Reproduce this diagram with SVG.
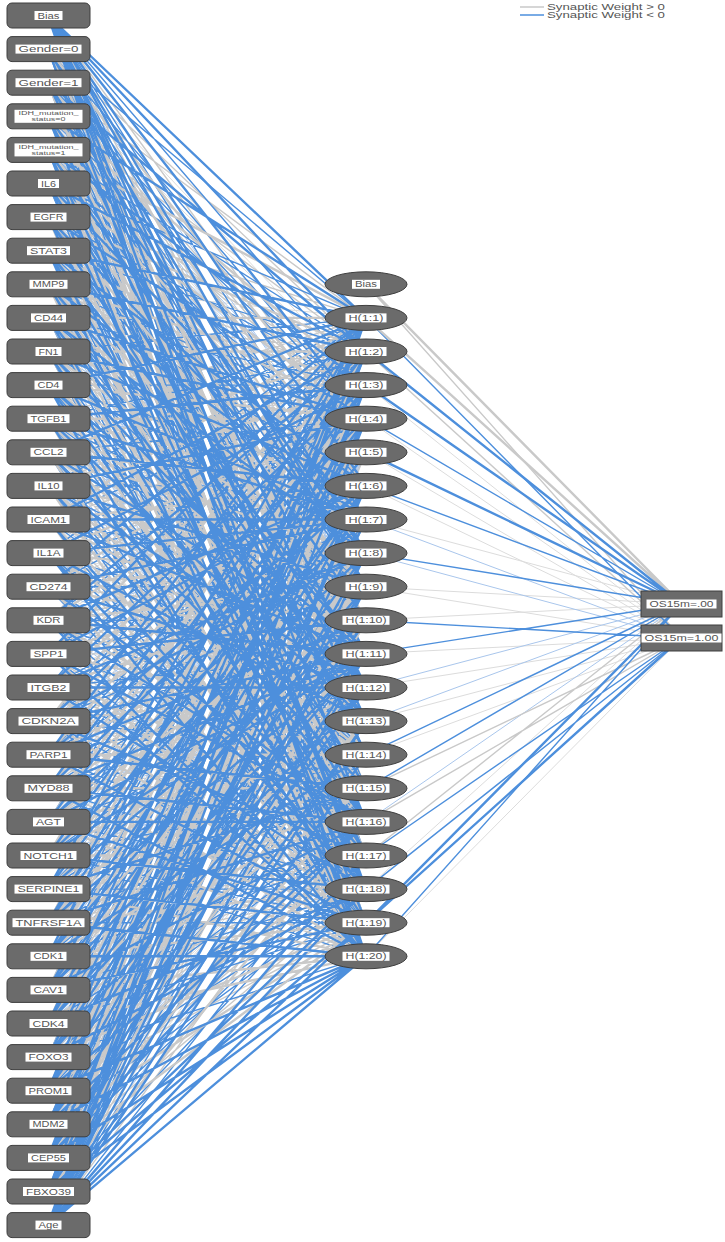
<svg xmlns="http://www.w3.org/2000/svg" width="725" height="1242" viewBox="0 0 725 1242">
<style>
.cn path{fill:none;stroke-linecap:butt}
.h{stroke:#dcdcdc;stroke-width:1}
.l{stroke:#a9c6ec;stroke-width:1}
.g{stroke:#c9c9c9;stroke-width:1.4}
.G{stroke:#c9c9c9;stroke-width:2.4}
.b{stroke:#4d8fdc;stroke-width:1.4}
.B{stroke:#4d8fdc;stroke-width:2.4}
.ib{fill:#6b6b6b;stroke:#3f3f3f;stroke-width:1}
.lb{fill:#ffffff}
.t{font-family:"Liberation Sans",Arial,sans-serif;font-size:8.5px;fill:#555555;text-anchor:middle}
.ts{font-family:"Liberation Sans",Arial,sans-serif;font-size:5.5px;fill:#555555;text-anchor:middle}
.lg{font-family:"Liberation Sans",Arial,sans-serif;font-size:8.5px;fill:#555555}
</style>
<rect width="725" height="1242" fill="#ffffff"/>
<g id="connectors" class="cn">
<path class="h" d="M48 49.1L366 385.1M48 49.1L366 620.3M48 49.1L366 821.9M48 82.7L366 385.1M48 82.7L366 687.5M48 116.3L366 485.9M48 116.3L366 721.1M48 149.9L366 553.1M48 149.9L366 855.5M48 183.5L366 485.9M48 183.5L366 788.3M48 217.1L366 452.3M48 217.1L366 754.7M48 250.7L366 519.5M48 250.7L366 721.1M48 284.3L366 317.9M48 284.3L366 687.5M48 317.9L366 485.9M48 317.9L366 788.3M48 351.5L366 385.1M48 351.5L366 754.7M48 385.1L366 452.3M48 385.1L366 788.3M48 418.7L366 553.1M48 418.7L366 855.5M48 452.3L366 452.3M48 452.3L366 721.1M48 485.9L366 519.5M48 485.9L366 889.1M48 519.5L366 553.1M48 519.5L366 788.3M48 553.1L366 351.5M48 553.1L366 620.3M48 553.1L366 922.7M48 586.7L366 452.3M48 586.7L366 754.7M48 620.3L366 452.3M48 620.3L366 687.5M48 653.9L366 385.1M48 653.9L366 687.5M48 687.5L366 485.9M48 687.5L366 754.7M48 721.1L366 452.3M48 721.1L366 788.3M48 754.7L366 351.5M48 754.7L366 721.1M48 788.3L366 519.5M48 788.3L366 855.5M48 821.9L366 452.3M48 821.9L366 687.5M48 855.5L366 485.9M48 855.5L366 721.1M48 889.1L366 519.5M48 889.1L366 821.9M48 922.7L366 519.5M48 922.7L366 754.7M48 956.3L366 452.3M48 956.3L366 721.1M48 989.9L366 485.9M48 989.9L366 721.1M48 1023.5L366 452.3M48 1023.5L366 721.1M48 1057.1L366 452.3M48 1057.1L366 788.3M48 1090.7L366 519.5M48 1090.7L366 788.3M48 1124.3L366 452.3M48 1124.3L366 754.7M48 1157.9L366 485.9M48 1157.9L366 754.7M48 1191.5L366 452.3M48 1191.5L366 754.7M366 385.1L681.5 638M366 418.7L681.5 638M366 452.3L681.5 638M366 485.9L681.5 638M366 519.5L681.5 604M366 586.7L681.5 604M366 586.7L681.5 638M366 620.3L681.5 604M366 653.9L681.5 638M366 687.5L681.5 638M366 721.1L681.5 638M366 754.7L681.5 638M366 889.1L681.5 604M366 956.3L681.5 638"/>
<path class="l" d="M48 49.1L366 485.9M48 49.1L366 754.7M48 82.7L366 519.5M48 82.7L366 821.9M48 116.3L366 452.3M48 116.3L366 788.3M48 149.9L366 452.3M48 149.9L366 721.1M48 183.5L366 586.7M48 183.5L366 889.1M48 217.1L366 485.9M48 217.1L366 821.9M48 250.7L366 452.3M48 250.7L366 821.9M48 284.3L366 553.1M48 284.3L366 889.1M48 317.9L366 452.3M48 317.9L366 754.7M48 351.5L366 519.5M48 351.5L366 788.3M48 385.1L366 553.1M48 385.1L366 889.1M48 418.7L366 452.3M48 418.7L366 754.7M48 452.3L366 519.5M48 452.3L366 855.5M48 485.9L366 452.3M48 485.9L366 721.1M48 519.5L366 452.3M48 519.5L366 721.1M48 553.1L366 553.1M48 553.1L366 788.3M48 586.7L366 485.9M48 586.7L366 721.1M48 586.7L366 956.3M48 620.3L366 519.5M48 620.3L366 855.5M48 653.9L366 519.5M48 653.9L366 788.3M48 687.5L366 452.3M48 687.5L366 721.1M48 721.1L366 485.9M48 721.1L366 721.1M48 754.7L366 519.5M48 754.7L366 821.9M48 788.3L366 452.3M48 788.3L366 721.1M48 821.9L366 485.9M48 821.9L366 788.3M48 855.5L366 452.3M48 855.5L366 754.7M48 889.1L366 485.9M48 889.1L366 721.1M48 922.7L366 452.3M48 922.7L366 721.1M48 956.3L366 519.5M48 956.3L366 821.9M48 989.9L366 452.3M48 989.9L366 754.7M48 1023.5L366 519.5M48 1023.5L366 754.7M48 1057.1L366 485.9M48 1057.1L366 754.7M48 1090.7L366 452.3M48 1090.7L366 721.1M48 1124.3L366 485.9M48 1124.3L366 788.3M48 1157.9L366 452.3M48 1157.9L366 721.1M48 1191.5L366 519.5M48 1191.5L366 788.3M366 519.5L681.5 638M366 553.1L681.5 638M366 687.5L681.5 604M366 721.1L681.5 604M366 821.9L681.5 604"/>
<path class="g" d="M48 15.5L366 452.3M48 15.5L366 620.3M48 15.5L366 788.3M48 49.1L366 351.5M48 49.1L366 553.1M48 49.1L366 653.9M48 49.1L366 855.5M48 49.1L366 922.7M48 82.7L366 317.9M48 82.7L366 452.3M48 82.7L366 620.3M48 82.7L366 788.3M48 82.7L366 889.1M48 116.3L366 351.5M48 116.3L366 519.5M48 116.3L366 653.9M48 116.3L366 821.9M48 116.3L366 956.3M48 149.9L366 418.7M48 149.9L366 653.9M48 149.9L366 788.3M48 183.5L366 385.1M48 183.5L366 553.1M48 183.5L366 721.1M48 183.5L366 922.7M48 217.1L366 317.9M48 217.1L366 519.5M48 217.1L366 653.9M48 217.1L366 922.7M48 250.7L366 385.1M48 250.7L366 586.7M48 250.7L366 754.7M48 250.7L366 922.7M48 284.3L366 452.3M48 284.3L366 620.3M48 284.3L366 855.5M48 317.9L366 351.5M48 317.9L366 620.3M48 317.9L366 821.9M48 351.5L366 452.3M48 351.5L366 620.3M48 351.5L366 855.5M48 385.1L366 351.5M48 385.1L366 586.7M48 385.1L366 721.1M48 385.1L366 922.7M48 418.7L366 317.9M48 418.7L366 485.9M48 418.7L366 687.5M48 418.7L366 889.1M48 452.3L366 385.1M48 452.3L366 620.3M48 452.3L366 821.9M48 485.9L366 351.5M48 485.9L366 620.3M48 485.9L366 788.3M48 519.5L366 418.7M48 519.5L366 620.3M48 519.5L366 821.9M48 519.5L366 956.3M48 553.1L366 452.3M48 553.1L366 687.5M48 553.1L366 855.5M48 586.7L366 351.5M48 586.7L366 620.3M48 586.7L366 855.5M48 620.3L366 317.9M48 620.3L366 553.1M48 620.3L366 721.1M48 620.3L366 922.7M48 653.9L366 452.3M48 653.9L366 653.9M48 653.9L366 855.5M48 687.5L366 351.5M48 687.5L366 620.3M48 687.5L366 821.9M48 687.5L366 922.7M48 721.1L366 385.1M48 721.1L366 620.3M48 721.1L366 821.9M48 754.7L366 452.3M48 754.7L366 653.9M48 754.7L366 855.5M48 788.3L366 317.9M48 788.3L366 553.1M48 788.3L366 754.7M48 788.3L366 922.7M48 821.9L366 418.7M48 821.9L366 620.3M48 821.9L366 855.5M48 855.5L366 351.5M48 855.5L366 586.7M48 855.5L366 821.9M48 889.1L366 418.7M48 889.1L366 653.9M48 889.1L366 855.5M48 922.7L366 317.9M48 922.7L366 553.1M48 922.7L366 855.5M48 956.3L366 385.1M48 956.3L366 653.9M48 956.3L366 889.1M48 989.9L366 385.1M48 989.9L366 620.3M48 989.9L366 855.5M48 1023.5L366 418.7M48 1023.5L366 620.3M48 1023.5L366 855.5M48 1057.1L366 351.5M48 1057.1L366 620.3M48 1057.1L366 855.5M48 1090.7L366 418.7M48 1090.7L366 653.9M48 1090.7L366 922.7M48 1124.3L366 317.9M48 1124.3L366 620.3M48 1124.3L366 855.5M48 1157.9L366 351.5M48 1157.9L366 620.3M48 1157.9L366 889.1M48 1191.5L366 418.7M48 1191.5L366 653.9M48 1225.1L366 452.3M48 1225.1L366 620.3M48 1225.1L366 788.3M366 284.3L681.5 638M366 351.5L681.5 638M366 788.3L681.5 638M366 821.9L681.5 638M366 855.5L681.5 604"/>
<path class="b" d="M48 15.5L366 385.1M48 15.5L366 519.5M48 15.5L366 653.9M48 15.5L366 754.7M48 15.5L366 855.5M48 15.5L366 922.7M48 49.1L366 317.9M48 49.1L366 418.7M48 49.1L366 519.5M48 49.1L366 687.5M48 49.1L366 788.3M48 49.1L366 956.3M48 82.7L366 418.7M48 82.7L366 553.1M48 82.7L366 653.9M48 82.7L366 855.5M48 82.7L366 956.3M48 116.3L366 418.7M48 116.3L366 586.7M48 116.3L366 687.5M48 116.3L366 889.1M48 149.9L366 351.5M48 149.9L366 485.9M48 149.9L366 586.7M48 149.9L366 754.7M48 149.9L366 889.1M48 183.5L366 317.9M48 183.5L366 452.3M48 183.5L366 653.9M48 183.5L366 754.7M48 183.5L366 956.3M48 217.1L366 385.1M48 217.1L366 620.3M48 217.1L366 687.5M48 217.1L366 855.5M48 250.7L366 351.5M48 250.7L366 553.1M48 250.7L366 687.5M48 250.7L366 889.1M48 284.3L366 418.7M48 284.3L366 485.9M48 284.3L366 721.1M48 284.3L366 788.3M48 284.3L366 922.7M48 317.9L366 385.1M48 317.9L366 586.7M48 317.9L366 687.5M48 317.9L366 922.7M48 317.9L366 956.3M48 351.5L366 317.9M48 351.5L366 553.1M48 351.5L366 653.9M48 351.5L366 821.9M48 351.5L366 956.3M48 385.1L366 385.1M48 385.1L366 485.9M48 385.1L366 687.5M48 385.1L366 754.7M48 418.7L366 351.5M48 418.7L366 586.7M48 418.7L366 653.9M48 418.7L366 821.9M48 452.3L366 418.7M48 452.3L366 586.7M48 452.3L366 754.7M48 452.3L366 889.1M48 452.3L366 956.3M48 485.9L366 317.9M48 485.9L366 485.9M48 485.9L366 653.9M48 485.9L366 821.9M48 485.9L366 922.7M48 519.5L366 385.1M48 519.5L366 586.7M48 519.5L366 754.7M48 519.5L366 922.7M48 553.1L366 317.9M48 553.1L366 485.9M48 553.1L366 653.9M48 553.1L366 821.9M48 586.7L366 418.7M48 586.7L366 586.7M48 586.7L366 788.3M48 586.7L366 922.7M48 620.3L366 385.1M48 620.3L366 620.3M48 620.3L366 754.7M48 620.3L366 889.1M48 653.9L366 418.7M48 653.9L366 586.7M48 653.9L366 754.7M48 653.9L366 889.1M48 687.5L366 317.9M48 687.5L366 519.5M48 687.5L366 653.9M48 687.5L366 855.5M48 721.1L366 351.5M48 721.1L366 586.7M48 721.1L366 754.7M48 721.1L366 889.1M48 721.1L366 956.3M48 754.7L366 418.7M48 754.7L366 553.1M48 754.7L366 687.5M48 754.7L366 889.1M48 788.3L366 385.1M48 788.3L366 586.7M48 788.3L366 687.5M48 788.3L366 889.1M48 821.9L366 317.9M48 821.9L366 553.1M48 821.9L366 721.1M48 821.9L366 889.1M48 855.5L366 385.1M48 855.5L366 620.3M48 855.5L366 788.3M48 855.5L366 922.7M48 855.5L366 956.3M48 889.1L366 351.5M48 889.1L366 553.1M48 889.1L366 687.5M48 889.1L366 889.1M48 922.7L366 418.7M48 922.7L366 620.3M48 922.7L366 788.3M48 922.7L366 922.7M48 956.3L366 351.5M48 956.3L366 553.1M48 956.3L366 687.5M48 956.3L366 855.5M48 989.9L366 317.9M48 989.9L366 519.5M48 989.9L366 687.5M48 989.9L366 889.1M48 1023.5L366 385.1M48 1023.5L366 586.7M48 1023.5L366 821.9M48 1023.5L366 922.7M48 1057.1L366 317.9M48 1057.1L366 519.5M48 1057.1L366 653.9M48 1057.1L366 821.9M48 1057.1L366 956.3M48 1090.7L366 385.1M48 1090.7L366 586.7M48 1090.7L366 754.7M48 1090.7L366 889.1M48 1124.3L366 351.5M48 1124.3L366 586.7M48 1124.3L366 653.9M48 1124.3L366 889.1M48 1157.9L366 385.1M48 1157.9L366 553.1M48 1157.9L366 687.5M48 1157.9L366 855.5M48 1191.5L366 317.9M48 1191.5L366 553.1M48 1191.5L366 687.5M48 1191.5L366 855.5M48 1225.1L366 351.5M48 1225.1L366 519.5M48 1225.1L366 687.5M48 1225.1L366 821.9M366 317.9L681.5 638M366 418.7L681.5 604M366 485.9L681.5 604M366 553.1L681.5 604M366 620.3L681.5 638M366 653.9L681.5 604M366 754.7L681.5 604M366 788.3L681.5 604M366 855.5L681.5 638M366 889.1L681.5 638M366 956.3L681.5 604"/>
<path class="G" d="M48 49.1L366 452.3M48 49.1L366 721.1M48 82.7L366 485.9M48 82.7L366 721.1M48 82.7L366 922.7M48 116.3L366 385.1M48 116.3L366 620.3M48 116.3L366 855.5M48 149.9L366 317.9M48 149.9L366 519.5M48 149.9L366 687.5M48 149.9L366 922.7M48 183.5L366 418.7M48 183.5L366 620.3M48 183.5L366 821.9M48 217.1L366 351.5M48 217.1L366 586.7M48 217.1L366 788.3M48 217.1L366 956.3M48 250.7L366 418.7M48 250.7L366 620.3M48 250.7L366 855.5M48 284.3L366 385.1M48 284.3L366 586.7M48 284.3L366 754.7M48 284.3L366 956.3M48 317.9L366 317.9M48 317.9L366 519.5M48 317.9L366 653.9M48 317.9L366 889.1M48 351.5L366 351.5M48 351.5L366 586.7M48 351.5L366 721.1M48 351.5L366 922.7M48 385.1L366 418.7M48 385.1L366 620.3M48 385.1L366 855.5M48 418.7L366 418.7M48 418.7L366 620.3M48 418.7L366 788.3M48 418.7L366 956.3M48 452.3L366 351.5M48 452.3L366 553.1M48 452.3L366 687.5M48 452.3L366 922.7M48 485.9L366 385.1M48 485.9L366 553.1M48 485.9L366 754.7M48 485.9L366 956.3M48 519.5L366 317.9M48 519.5L366 485.9M48 519.5L366 687.5M48 519.5L366 855.5M48 553.1L366 418.7M48 553.1L366 586.7M48 553.1L366 754.7M48 586.7L366 385.1M48 586.7L366 553.1M48 586.7L366 653.9M48 586.7L366 889.1M48 620.3L366 418.7M48 620.3L366 586.7M48 620.3L366 788.3M48 653.9L366 351.5M48 653.9L366 553.1M48 653.9L366 721.1M48 653.9L366 922.7M48 687.5L366 418.7M48 687.5L366 586.7M48 687.5L366 788.3M48 687.5L366 956.3M48 721.1L366 317.9M48 721.1L366 519.5M48 721.1L366 687.5M48 721.1L366 922.7M48 754.7L366 385.1M48 754.7L366 586.7M48 754.7L366 754.7M48 754.7L366 956.3M48 788.3L366 418.7M48 788.3L366 620.3M48 788.3L366 788.3M48 821.9L366 351.5M48 821.9L366 586.7M48 821.9L366 754.7M48 821.9L366 956.3M48 855.5L366 317.9M48 855.5L366 519.5M48 855.5L366 687.5M48 855.5L366 855.5M48 889.1L366 385.1M48 889.1L366 586.7M48 889.1L366 754.7M48 889.1L366 956.3M48 922.7L366 351.5M48 922.7L366 586.7M48 922.7L366 687.5M48 922.7L366 889.1M48 956.3L366 418.7M48 956.3L366 620.3M48 956.3L366 788.3M48 956.3L366 922.7M48 989.9L366 351.5M48 989.9L366 586.7M48 989.9L366 788.3M48 989.9L366 956.3M48 1023.5L366 317.9M48 1023.5L366 553.1M48 1023.5L366 788.3M48 1023.5L366 956.3M48 1057.1L366 385.1M48 1057.1L366 553.1M48 1057.1L366 721.1M48 1057.1L366 922.7M48 1090.7L366 351.5M48 1090.7L366 553.1M48 1090.7L366 687.5M48 1090.7L366 855.5M48 1124.3L366 418.7M48 1124.3L366 519.5M48 1124.3L366 721.1M48 1124.3L366 922.7M48 1157.9L366 418.7M48 1157.9L366 586.7M48 1157.9L366 788.3M48 1157.9L366 922.7M48 1191.5L366 385.1M48 1191.5L366 620.3M48 1191.5L366 821.9M366 284.3L681.5 604M366 317.9L681.5 604"/>
<path class="B" d="M48 15.5L366 317.9M48 15.5L366 351.5M48 15.5L366 418.7M48 15.5L366 485.9M48 15.5L366 553.1M48 15.5L366 586.7M48 15.5L366 687.5M48 15.5L366 721.1M48 15.5L366 821.9M48 15.5L366 889.1M48 15.5L366 956.3M48 49.1L366 586.7M48 49.1L366 889.1M48 82.7L366 351.5M48 82.7L366 586.7M48 82.7L366 754.7M48 116.3L366 317.9M48 116.3L366 553.1M48 116.3L366 754.7M48 116.3L366 922.7M48 149.9L366 385.1M48 149.9L366 620.3M48 149.9L366 821.9M48 149.9L366 956.3M48 183.5L366 351.5M48 183.5L366 519.5M48 183.5L366 687.5M48 183.5L366 855.5M48 217.1L366 418.7M48 217.1L366 553.1M48 217.1L366 721.1M48 217.1L366 889.1M48 250.7L366 317.9M48 250.7L366 485.9M48 250.7L366 653.9M48 250.7L366 788.3M48 250.7L366 956.3M48 284.3L366 351.5M48 284.3L366 519.5M48 284.3L366 653.9M48 284.3L366 821.9M48 317.9L366 418.7M48 317.9L366 553.1M48 317.9L366 721.1M48 317.9L366 855.5M48 351.5L366 418.7M48 351.5L366 485.9M48 351.5L366 687.5M48 351.5L366 889.1M48 385.1L366 317.9M48 385.1L366 519.5M48 385.1L366 653.9M48 385.1L366 821.9M48 385.1L366 956.3M48 418.7L366 385.1M48 418.7L366 519.5M48 418.7L366 721.1M48 418.7L366 922.7M48 452.3L366 317.9M48 452.3L366 485.9M48 452.3L366 653.9M48 452.3L366 788.3M48 485.9L366 418.7M48 485.9L366 586.7M48 485.9L366 687.5M48 485.9L366 855.5M48 519.5L366 351.5M48 519.5L366 519.5M48 519.5L366 653.9M48 519.5L366 889.1M48 553.1L366 385.1M48 553.1L366 519.5M48 553.1L366 721.1M48 553.1L366 889.1M48 553.1L366 956.3M48 586.7L366 317.9M48 586.7L366 519.5M48 586.7L366 687.5M48 586.7L366 821.9M48 620.3L366 351.5M48 620.3L366 485.9M48 620.3L366 653.9M48 620.3L366 821.9M48 620.3L366 956.3M48 653.9L366 317.9M48 653.9L366 485.9M48 653.9L366 620.3M48 653.9L366 821.9M48 653.9L366 956.3M48 687.5L366 385.1M48 687.5L366 553.1M48 687.5L366 687.5M48 687.5L366 889.1M48 721.1L366 418.7M48 721.1L366 553.1M48 721.1L366 653.9M48 721.1L366 855.5M48 754.7L366 317.9M48 754.7L366 485.9M48 754.7L366 620.3M48 754.7L366 788.3M48 754.7L366 922.7M48 788.3L366 351.5M48 788.3L366 485.9M48 788.3L366 653.9M48 788.3L366 821.9M48 788.3L366 956.3M48 821.9L366 385.1M48 821.9L366 519.5M48 821.9L366 653.9M48 821.9L366 821.9M48 821.9L366 922.7M48 855.5L366 418.7M48 855.5L366 553.1M48 855.5L366 653.9M48 855.5L366 889.1M48 889.1L366 317.9M48 889.1L366 452.3M48 889.1L366 620.3M48 889.1L366 788.3M48 889.1L366 922.7M48 922.7L366 385.1M48 922.7L366 485.9M48 922.7L366 653.9M48 922.7L366 821.9M48 922.7L366 956.3M48 956.3L366 317.9M48 956.3L366 485.9M48 956.3L366 586.7M48 956.3L366 754.7M48 956.3L366 956.3M48 989.9L366 418.7M48 989.9L366 553.1M48 989.9L366 653.9M48 989.9L366 821.9M48 989.9L366 922.7M48 1023.5L366 351.5M48 1023.5L366 485.9M48 1023.5L366 653.9M48 1023.5L366 687.5M48 1023.5L366 889.1M48 1057.1L366 418.7M48 1057.1L366 586.7M48 1057.1L366 687.5M48 1057.1L366 889.1M48 1090.7L366 317.9M48 1090.7L366 485.9M48 1090.7L366 620.3M48 1090.7L366 821.9M48 1090.7L366 956.3M48 1124.3L366 385.1M48 1124.3L366 553.1M48 1124.3L366 687.5M48 1124.3L366 821.9M48 1124.3L366 956.3M48 1157.9L366 317.9M48 1157.9L366 519.5M48 1157.9L366 653.9M48 1157.9L366 821.9M48 1157.9L366 956.3M48 1191.5L366 351.5M48 1191.5L366 485.9M48 1191.5L366 586.7M48 1191.5L366 721.1M48 1191.5L366 889.1M48 1191.5L366 922.7M48 1191.5L366 956.3M48 1225.1L366 317.9M48 1225.1L366 385.1M48 1225.1L366 418.7M48 1225.1L366 485.9M48 1225.1L366 553.1M48 1225.1L366 586.7M48 1225.1L366 653.9M48 1225.1L366 721.1M48 1225.1L366 754.7M48 1225.1L366 855.5M48 1225.1L366 889.1M48 1225.1L366 922.7M48 1225.1L366 956.3M366 351.5L681.5 604M366 385.1L681.5 604M366 452.3L681.5 604M366 922.7L681.5 604M366 922.7L681.5 638"/>
</g>
<g id="legend">
<line x1="520" y1="7" x2="544" y2="7" stroke="#c9c9c9" stroke-width="1.5"/>
<text class="lg" x="547" y="10" textLength="118" lengthAdjust="spacingAndGlyphs">Synaptic Weight &gt; 0</text>
<line x1="520" y1="15" x2="544" y2="15" stroke="#4d8fdc" stroke-width="1.5"/>
<text class="lg" x="547" y="18" textLength="118" lengthAdjust="spacingAndGlyphs">Synaptic Weight &lt; 0</text>
</g>
<g id="in-bias" transform="translate(0 15.5)"><rect class="ib" x="7" y="-12.5" width="83" height="25" rx="5"/><rect class="lb" x="34.5" y="-4.5" width="28" height="9"/><text class="t" x="48.5" y="3" textLength="22" lengthAdjust="spacingAndGlyphs">Bias</text></g>
<g id="in-gender0" transform="translate(0 49.1)"><rect class="ib" x="7" y="-12.5" width="83" height="25" rx="5"/><rect class="lb" x="15.5" y="-4.5" width="66" height="9"/><text class="t" x="48.5" y="3" textLength="60" lengthAdjust="spacingAndGlyphs">Gender=0</text></g>
<g id="in-gender1" transform="translate(0 82.7)"><rect class="ib" x="7" y="-12.5" width="83" height="25" rx="5"/><rect class="lb" x="15.5" y="-4.5" width="66" height="9"/><text class="t" x="48.5" y="3" textLength="60" lengthAdjust="spacingAndGlyphs">Gender=1</text></g>
<g id="in-idh0" transform="translate(0 116.3)"><rect class="ib" x="7" y="-12.5" width="83" height="25" rx="5"/><rect class="lb" x="14.5" y="-6.5" width="68" height="13"/><text class="ts" x="48.5" y="-1" textLength="60" lengthAdjust="spacingAndGlyphs">IDH_mutation_</text><text class="ts" x="48.5" y="5" textLength="34" lengthAdjust="spacingAndGlyphs">status=0</text></g>
<g id="in-idh1" transform="translate(0 149.9)"><rect class="ib" x="7" y="-12.5" width="83" height="25" rx="5"/><rect class="lb" x="14.5" y="-6.5" width="68" height="13"/><text class="ts" x="48.5" y="-1" textLength="60" lengthAdjust="spacingAndGlyphs">IDH_mutation_</text><text class="ts" x="48.5" y="5" textLength="34" lengthAdjust="spacingAndGlyphs">status=1</text></g>
<g id="in-il6" transform="translate(0 183.5)"><rect class="ib" x="7" y="-12.5" width="83" height="25" rx="5"/><rect class="lb" x="38" y="-4.5" width="21" height="9"/><text class="t" x="48.5" y="3" textLength="15" lengthAdjust="spacingAndGlyphs">IL6</text></g>
<g id="in-egfr" transform="translate(0 217.1)"><rect class="ib" x="7" y="-12.5" width="83" height="25" rx="5"/><rect class="lb" x="30.5" y="-4.5" width="36" height="9"/><text class="t" x="48.5" y="3" textLength="30" lengthAdjust="spacingAndGlyphs">EGFR</text></g>
<g id="in-stat3" transform="translate(0 250.7)"><rect class="ib" x="7" y="-12.5" width="83" height="25" rx="5"/><rect class="lb" x="27" y="-4.5" width="43" height="9"/><text class="t" x="48.5" y="3" textLength="37" lengthAdjust="spacingAndGlyphs">STAT3</text></g>
<g id="in-mmp9" transform="translate(0 284.3)"><rect class="ib" x="7" y="-12.5" width="83" height="25" rx="5"/><rect class="lb" x="29.5" y="-4.5" width="38" height="9"/><text class="t" x="48.5" y="3" textLength="32" lengthAdjust="spacingAndGlyphs">MMP9</text></g>
<g id="in-cd44" transform="translate(0 317.9)"><rect class="ib" x="7" y="-12.5" width="83" height="25" rx="5"/><rect class="lb" x="31" y="-4.5" width="35" height="9"/><text class="t" x="48.5" y="3" textLength="29" lengthAdjust="spacingAndGlyphs">CD44</text></g>
<g id="in-fn1" transform="translate(0 351.5)"><rect class="ib" x="7" y="-12.5" width="83" height="25" rx="5"/><rect class="lb" x="35.5" y="-4.5" width="26" height="9"/><text class="t" x="48.5" y="3" textLength="20" lengthAdjust="spacingAndGlyphs">FN1</text></g>
<g id="in-cd4" transform="translate(0 385.1)"><rect class="ib" x="7" y="-12.5" width="83" height="25" rx="5"/><rect class="lb" x="34.5" y="-4.5" width="28" height="9"/><text class="t" x="48.5" y="3" textLength="22" lengthAdjust="spacingAndGlyphs">CD4</text></g>
<g id="in-tgfb1" transform="translate(0 418.7)"><rect class="ib" x="7" y="-12.5" width="83" height="25" rx="5"/><rect class="lb" x="27.5" y="-4.5" width="42" height="9"/><text class="t" x="48.5" y="3" textLength="36" lengthAdjust="spacingAndGlyphs">TGFB1</text></g>
<g id="in-ccl2" transform="translate(0 452.3)"><rect class="ib" x="7" y="-12.5" width="83" height="25" rx="5"/><rect class="lb" x="30.5" y="-4.5" width="36" height="9"/><text class="t" x="48.5" y="3" textLength="30" lengthAdjust="spacingAndGlyphs">CCL2</text></g>
<g id="in-il10" transform="translate(0 485.9)"><rect class="ib" x="7" y="-12.5" width="83" height="25" rx="5"/><rect class="lb" x="34.5" y="-4.5" width="28" height="9"/><text class="t" x="48.5" y="3" textLength="22" lengthAdjust="spacingAndGlyphs">IL10</text></g>
<g id="in-icam1" transform="translate(0 519.5)"><rect class="ib" x="7" y="-12.5" width="83" height="25" rx="5"/><rect class="lb" x="27.5" y="-4.5" width="42" height="9"/><text class="t" x="48.5" y="3" textLength="36" lengthAdjust="spacingAndGlyphs">ICAM1</text></g>
<g id="in-il1a" transform="translate(0 553.1)"><rect class="ib" x="7" y="-12.5" width="83" height="25" rx="5"/><rect class="lb" x="33.5" y="-4.5" width="30" height="9"/><text class="t" x="48.5" y="3" textLength="24" lengthAdjust="spacingAndGlyphs">IL1A</text></g>
<g id="in-cd274" transform="translate(0 586.7)"><rect class="ib" x="7" y="-12.5" width="83" height="25" rx="5"/><rect class="lb" x="26.5" y="-4.5" width="44" height="9"/><text class="t" x="48.5" y="3" textLength="38" lengthAdjust="spacingAndGlyphs">CD274</text></g>
<g id="in-kdr" transform="translate(0 620.3)"><rect class="ib" x="7" y="-12.5" width="83" height="25" rx="5"/><rect class="lb" x="33.5" y="-4.5" width="30" height="9"/><text class="t" x="48.5" y="3" textLength="24" lengthAdjust="spacingAndGlyphs">KDR</text></g>
<g id="in-spp1" transform="translate(0 653.9)"><rect class="ib" x="7" y="-12.5" width="83" height="25" rx="5"/><rect class="lb" x="30.5" y="-4.5" width="36" height="9"/><text class="t" x="48.5" y="3" textLength="30" lengthAdjust="spacingAndGlyphs">SPP1</text></g>
<g id="in-itgb2" transform="translate(0 687.5)"><rect class="ib" x="7" y="-12.5" width="83" height="25" rx="5"/><rect class="lb" x="27.5" y="-4.5" width="42" height="9"/><text class="t" x="48.5" y="3" textLength="36" lengthAdjust="spacingAndGlyphs">ITGB2</text></g>
<g id="in-cdkn2a" transform="translate(0 721.1)"><rect class="ib" x="7" y="-12.5" width="83" height="25" rx="5"/><rect class="lb" x="18.5" y="-4.5" width="60" height="9"/><text class="t" x="48.5" y="3" textLength="54" lengthAdjust="spacingAndGlyphs">CDKN2A</text></g>
<g id="in-parp1" transform="translate(0 754.7)"><rect class="ib" x="7" y="-12.5" width="83" height="25" rx="5"/><rect class="lb" x="26.5" y="-4.5" width="44" height="9"/><text class="t" x="48.5" y="3" textLength="38" lengthAdjust="spacingAndGlyphs">PARP1</text></g>
<g id="in-myd88" transform="translate(0 788.3)"><rect class="ib" x="7" y="-12.5" width="83" height="25" rx="5"/><rect class="lb" x="24.5" y="-4.5" width="48" height="9"/><text class="t" x="48.5" y="3" textLength="42" lengthAdjust="spacingAndGlyphs">MYD88</text></g>
<g id="in-agt" transform="translate(0 821.9)"><rect class="ib" x="7" y="-12.5" width="83" height="25" rx="5"/><rect class="lb" x="33" y="-4.5" width="31" height="9"/><text class="t" x="48.5" y="3" textLength="25" lengthAdjust="spacingAndGlyphs">AGT</text></g>
<g id="in-notch1" transform="translate(0 855.5)"><rect class="ib" x="7" y="-12.5" width="83" height="25" rx="5"/><rect class="lb" x="20.5" y="-4.5" width="56" height="9"/><text class="t" x="48.5" y="3" textLength="50" lengthAdjust="spacingAndGlyphs">NOTCH1</text></g>
<g id="in-serpine1" transform="translate(0 889.1)"><rect class="ib" x="7" y="-12.5" width="83" height="25" rx="5"/><rect class="lb" x="14.5" y="-4.5" width="68" height="9"/><text class="t" x="48.5" y="3" textLength="62" lengthAdjust="spacingAndGlyphs">SERPINE1</text></g>
<g id="in-tnfrsf1a" transform="translate(0 922.7)"><rect class="ib" x="7" y="-12.5" width="83" height="25" rx="5"/><rect class="lb" x="12.5" y="-4.5" width="72" height="9"/><text class="t" x="48.5" y="3" textLength="66" lengthAdjust="spacingAndGlyphs">TNFRSF1A</text></g>
<g id="in-cdk1" transform="translate(0 956.3)"><rect class="ib" x="7" y="-12.5" width="83" height="25" rx="5"/><rect class="lb" x="30.5" y="-4.5" width="36" height="9"/><text class="t" x="48.5" y="3" textLength="30" lengthAdjust="spacingAndGlyphs">CDK1</text></g>
<g id="in-cav1" transform="translate(0 989.9)"><rect class="ib" x="7" y="-12.5" width="83" height="25" rx="5"/><rect class="lb" x="30.5" y="-4.5" width="36" height="9"/><text class="t" x="48.5" y="3" textLength="30" lengthAdjust="spacingAndGlyphs">CAV1</text></g>
<g id="in-cdk4" transform="translate(0 1023.5)"><rect class="ib" x="7" y="-12.5" width="83" height="25" rx="5"/><rect class="lb" x="29.5" y="-4.5" width="38" height="9"/><text class="t" x="48.5" y="3" textLength="32" lengthAdjust="spacingAndGlyphs">CDK4</text></g>
<g id="in-foxo3" transform="translate(0 1057.1)"><rect class="ib" x="7" y="-12.5" width="83" height="25" rx="5"/><rect class="lb" x="25.5" y="-4.5" width="46" height="9"/><text class="t" x="48.5" y="3" textLength="40" lengthAdjust="spacingAndGlyphs">FOXO3</text></g>
<g id="in-prom1" transform="translate(0 1090.7)"><rect class="ib" x="7" y="-12.5" width="83" height="25" rx="5"/><rect class="lb" x="25.5" y="-4.5" width="46" height="9"/><text class="t" x="48.5" y="3" textLength="40" lengthAdjust="spacingAndGlyphs">PROM1</text></g>
<g id="in-mdm2" transform="translate(0 1124.3)"><rect class="ib" x="7" y="-12.5" width="83" height="25" rx="5"/><rect class="lb" x="29.5" y="-4.5" width="38" height="9"/><text class="t" x="48.5" y="3" textLength="32" lengthAdjust="spacingAndGlyphs">MDM2</text></g>
<g id="in-cep55" transform="translate(0 1157.9)"><rect class="ib" x="7" y="-12.5" width="83" height="25" rx="5"/><rect class="lb" x="28" y="-4.5" width="41" height="9"/><text class="t" x="48.5" y="3" textLength="35" lengthAdjust="spacingAndGlyphs">CEP55</text></g>
<g id="in-fbxo39" transform="translate(0 1191.5)"><rect class="ib" x="7" y="-12.5" width="83" height="25" rx="5"/><rect class="lb" x="23" y="-4.5" width="51" height="9"/><text class="t" x="48.5" y="3" textLength="45" lengthAdjust="spacingAndGlyphs">FBXO39</text></g>
<g id="in-age" transform="translate(0 1225.1)"><rect class="ib" x="7" y="-12.5" width="83" height="25" rx="5"/><rect class="lb" x="35.5" y="-4.5" width="26" height="9"/><text class="t" x="48.5" y="3" textLength="20" lengthAdjust="spacingAndGlyphs">Age</text></g>
<g id="hid-bias" transform="translate(366 284.3)"><ellipse class="ib" rx="41" ry="12.5"/><rect class="lb" x="-14" y="-4.5" width="28" height="9"/><text class="t" y="3" textLength="22" lengthAdjust="spacingAndGlyphs">Bias</text></g>
<g id="hid-1" transform="translate(366 317.9)"><ellipse class="ib" rx="41" ry="12.5"/><rect class="lb" x="-20.5" y="-4.5" width="41" height="9"/><text class="t" y="3" textLength="35" lengthAdjust="spacingAndGlyphs">H(1:1)</text></g>
<g id="hid-2" transform="translate(366 351.5)"><ellipse class="ib" rx="41" ry="12.5"/><rect class="lb" x="-20.5" y="-4.5" width="41" height="9"/><text class="t" y="3" textLength="35" lengthAdjust="spacingAndGlyphs">H(1:2)</text></g>
<g id="hid-3" transform="translate(366 385.1)"><ellipse class="ib" rx="41" ry="12.5"/><rect class="lb" x="-20.5" y="-4.5" width="41" height="9"/><text class="t" y="3" textLength="35" lengthAdjust="spacingAndGlyphs">H(1:3)</text></g>
<g id="hid-4" transform="translate(366 418.7)"><ellipse class="ib" rx="41" ry="12.5"/><rect class="lb" x="-20.5" y="-4.5" width="41" height="9"/><text class="t" y="3" textLength="35" lengthAdjust="spacingAndGlyphs">H(1:4)</text></g>
<g id="hid-5" transform="translate(366 452.3)"><ellipse class="ib" rx="41" ry="12.5"/><rect class="lb" x="-20.5" y="-4.5" width="41" height="9"/><text class="t" y="3" textLength="35" lengthAdjust="spacingAndGlyphs">H(1:5)</text></g>
<g id="hid-6" transform="translate(366 485.9)"><ellipse class="ib" rx="41" ry="12.5"/><rect class="lb" x="-20.5" y="-4.5" width="41" height="9"/><text class="t" y="3" textLength="35" lengthAdjust="spacingAndGlyphs">H(1:6)</text></g>
<g id="hid-7" transform="translate(366 519.5)"><ellipse class="ib" rx="41" ry="12.5"/><rect class="lb" x="-20.5" y="-4.5" width="41" height="9"/><text class="t" y="3" textLength="35" lengthAdjust="spacingAndGlyphs">H(1:7)</text></g>
<g id="hid-8" transform="translate(366 553.1)"><ellipse class="ib" rx="41" ry="12.5"/><rect class="lb" x="-20.5" y="-4.5" width="41" height="9"/><text class="t" y="3" textLength="35" lengthAdjust="spacingAndGlyphs">H(1:8)</text></g>
<g id="hid-9" transform="translate(366 586.7)"><ellipse class="ib" rx="41" ry="12.5"/><rect class="lb" x="-20.5" y="-4.5" width="41" height="9"/><text class="t" y="3" textLength="35" lengthAdjust="spacingAndGlyphs">H(1:9)</text></g>
<g id="hid-10" transform="translate(366 620.3)"><ellipse class="ib" rx="41" ry="12.5"/><rect class="lb" x="-23.5" y="-4.5" width="47" height="9"/><text class="t" y="3" textLength="41" lengthAdjust="spacingAndGlyphs">H(1:10)</text></g>
<g id="hid-11" transform="translate(366 653.9)"><ellipse class="ib" rx="41" ry="12.5"/><rect class="lb" x="-23.5" y="-4.5" width="47" height="9"/><text class="t" y="3" textLength="41" lengthAdjust="spacingAndGlyphs">H(1:11)</text></g>
<g id="hid-12" transform="translate(366 687.5)"><ellipse class="ib" rx="41" ry="12.5"/><rect class="lb" x="-23.5" y="-4.5" width="47" height="9"/><text class="t" y="3" textLength="41" lengthAdjust="spacingAndGlyphs">H(1:12)</text></g>
<g id="hid-13" transform="translate(366 721.1)"><ellipse class="ib" rx="41" ry="12.5"/><rect class="lb" x="-23.5" y="-4.5" width="47" height="9"/><text class="t" y="3" textLength="41" lengthAdjust="spacingAndGlyphs">H(1:13)</text></g>
<g id="hid-14" transform="translate(366 754.7)"><ellipse class="ib" rx="41" ry="12.5"/><rect class="lb" x="-23.5" y="-4.5" width="47" height="9"/><text class="t" y="3" textLength="41" lengthAdjust="spacingAndGlyphs">H(1:14)</text></g>
<g id="hid-15" transform="translate(366 788.3)"><ellipse class="ib" rx="41" ry="12.5"/><rect class="lb" x="-23.5" y="-4.5" width="47" height="9"/><text class="t" y="3" textLength="41" lengthAdjust="spacingAndGlyphs">H(1:15)</text></g>
<g id="hid-16" transform="translate(366 821.9)"><ellipse class="ib" rx="41" ry="12.5"/><rect class="lb" x="-23.5" y="-4.5" width="47" height="9"/><text class="t" y="3" textLength="41" lengthAdjust="spacingAndGlyphs">H(1:16)</text></g>
<g id="hid-17" transform="translate(366 855.5)"><ellipse class="ib" rx="41" ry="12.5"/><rect class="lb" x="-23.5" y="-4.5" width="47" height="9"/><text class="t" y="3" textLength="41" lengthAdjust="spacingAndGlyphs">H(1:17)</text></g>
<g id="hid-18" transform="translate(366 889.1)"><ellipse class="ib" rx="41" ry="12.5"/><rect class="lb" x="-23.5" y="-4.5" width="47" height="9"/><text class="t" y="3" textLength="41" lengthAdjust="spacingAndGlyphs">H(1:18)</text></g>
<g id="hid-19" transform="translate(366 922.7)"><ellipse class="ib" rx="41" ry="12.5"/><rect class="lb" x="-23.5" y="-4.5" width="47" height="9"/><text class="t" y="3" textLength="41" lengthAdjust="spacingAndGlyphs">H(1:19)</text></g>
<g id="hid-20" transform="translate(366 956.3)"><ellipse class="ib" rx="41" ry="12.5"/><rect class="lb" x="-23.5" y="-4.5" width="47" height="9"/><text class="t" y="3" textLength="41" lengthAdjust="spacingAndGlyphs">H(1:20)</text></g>
<g id="out-0" transform="translate(681.5 604)"><rect class="ib" x="-40.5" y="-13" width="81" height="26"/><rect class="lb" x="-35" y="-4.5" width="70" height="9"/><text class="t" y="3" textLength="64" lengthAdjust="spacingAndGlyphs">OS15m=.00</text></g>
<g id="out-1" transform="translate(681.5 638)"><rect class="ib" x="-40.5" y="-13" width="81" height="26"/><rect class="lb" x="-40" y="-4.5" width="80" height="9"/><text class="t" y="3" textLength="74" lengthAdjust="spacingAndGlyphs">OS15m=1.00</text></g>
</svg>
